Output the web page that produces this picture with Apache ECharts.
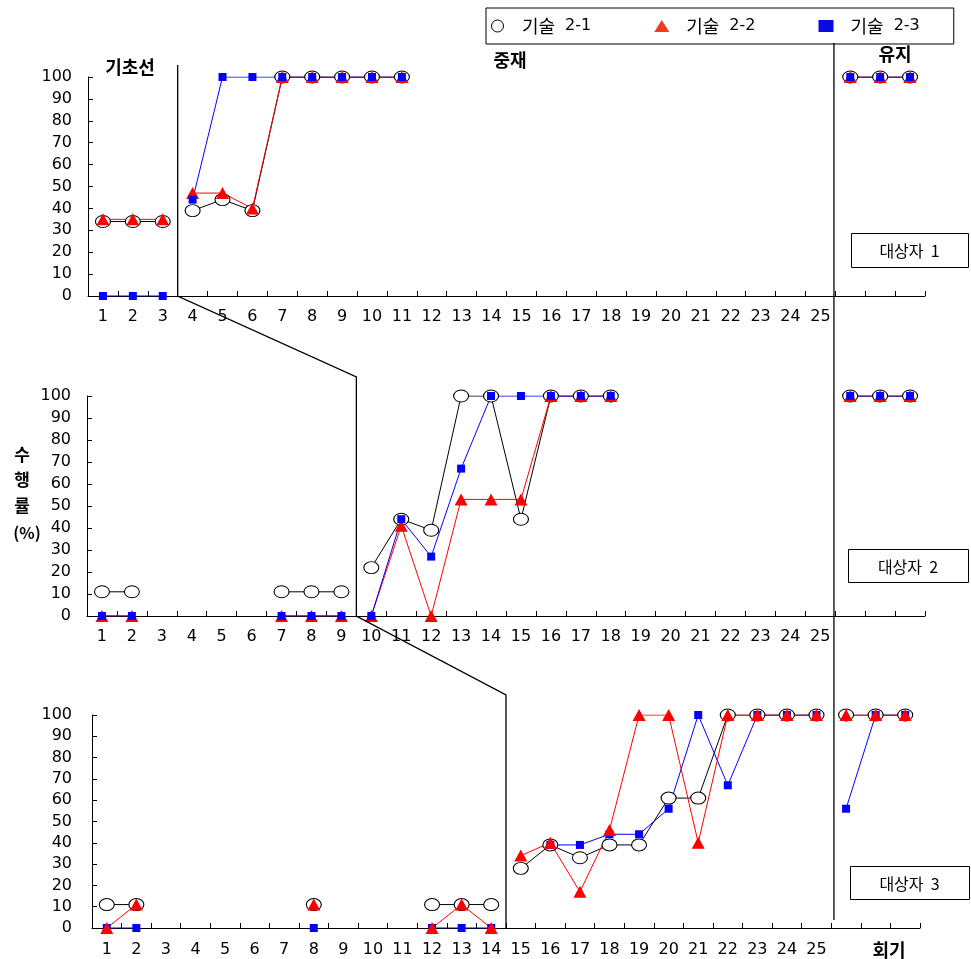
<!DOCTYPE html>
<html><head><meta charset="utf-8">
<script src="https://cdn.jsdelivr.net/npm/echarts@6/dist/echarts.min.js"></script>
<style>html,body{margin:0;padding:0;background:#fff}#c{width:971px;height:959px}</style>
</head><body><div id="c"></div>
<script>
// ---------- data ----------
const categories = ['1','2','3','4','5','6','7','8','9','10','11','12','13','14','15','16','17','18','19','20','21','22','23','24','25','','',''];
const skillNames = ['기술 2-1','기술 2-2','기술 2-3'];
const subjectLabels = ['대상자  1','대상자  2','대상자  3'];
const phaseLabels = ['기초선','중재','유지'];
const yAxisLabel = ['수','행','률','(%)'];
const xAxisTitle = '회기';
const interventionStart = [3, 9, 14];   // first intervention session index per subject
const maintenanceStart = 25;            // first maintenance slot index

// subject 1
const s1_skill1 = [34,34,34,39,44,39,100,100,100,100,100,null,null,null,null,null,null,null,null,null,null,null,null,null,null,100,100,100];
const s1_skill2 = [35,35,35,47,47,40,100,100,100,100,100,null,null,null,null,null,null,null,null,null,null,null,null,null,null,100,100,100];
const s1_skill3 = [0,0,0,44,100,100,100,100,100,100,100,null,null,null,null,null,null,null,null,null,null,null,null,null,null,100,100,100];
// subject 2
const s2_skill1 = [11,11,null,null,null,null,11,11,11,22,44,39,100,100,44,100,100,100,null,null,null,null,null,null,null,100,100,100];
const s2_skill2 = [0,0,null,null,null,null,0,0,0,0,41,0,53,53,53,100,100,100,null,null,null,null,null,null,null,100,100,100];
const s2_skill3 = [0,0,null,null,null,null,0,0,0,0,44,27,67,100,100,100,100,100,null,null,null,null,null,null,null,100,100,100];
// subject 3
const s3_skill1 = [11,11,null,null,null,null,null,11,null,null,null,11,11,11,28,39,33,39,39,61,61,100,100,100,100,100,100,100];
const s3_skill2 = [0,11,null,null,null,null,null,11,null,null,null,0,11,0,34,40,17,46,100,100,40,100,100,100,100,100,100,100];
const s3_skill3 = [0,0,null,null,null,null,null,0,null,null,null,0,0,0,null,39,39,44,44,56,100,67,100,100,100,56,100,100];

const subjects = [
  [s1_skill1, s1_skill2, s1_skill3],
  [s2_skill1, s2_skill2, s2_skill3],
  [s3_skill1, s3_skill2, s3_skill3]
];

// ---------- layout / style ----------
const grids = [
  {left:88, top:77, width:837, height:219},
  {left:87, top:396, width:838, height:220},
  {left:92, top:715, width:828, height:213}
];
const yLabelMargin = [16, 16, 20];
const drawOrder = [[0,1,2],[0,1,2],[0,2,1]];
const ellipse = 'path://M0,5A5,5,0,1,1,10,5A5,5,0,1,1,0,5Z';
const skillStyles = [
  {symbol: ellipse, symbolSize:[15,12], itemStyle:{color:'#fff', borderColor:'#000', borderWidth:1}, lineStyle:{color:'#000', width:1}},
  {symbol:'triangle', symbolSize:[13,12], itemStyle:{color:'#ff0000'}, lineStyle:{color:'#ff0000', width:1}},
  {symbol:'rect', symbolSize:8, itemStyle:{color:'#0000ff'}, lineStyle:{color:'#0000ff', width:1}}
];
const tickFont = 'DejaVu Sans';
const krFont = 'Noto Sans CJK KR';

function phaseData(arr, a, b){ return arr.map((v,i)=> (i>=a && i<b) ? v : null); }

const series = [];
subjects.forEach((skills, g) => {
  const bounds = [0, interventionStart[g], maintenanceStart, categories.length];
  drawOrder[g].forEach(k => {
    for (let p = 0; p < 3; p++) {
      const st = skillStyles[k];
      series.push({
        type:'line', name: skillNames[k], xAxisIndex:g, yAxisIndex:g,
        data: phaseData(skills[k], bounds[p], bounds[p+1]),
        symbol: st.symbol, symbolSize: st.symbolSize,
        itemStyle: st.itemStyle, lineStyle: st.lineStyle,
        showSymbol:true, showAllSymbol:true, connectNulls:false,
        emphasis:{disabled:true}, animation:false
      });
    }
  });
});

const option = {
  animation:false,
  backgroundColor:'#fff',
  grid: grids.map(g => Object.assign({containLabel:false}, g)),
  xAxis: grids.map((g,i) => ({
    type:'category', gridIndex:i, data:categories, boundaryGap:true,
    axisLine:{show:true, lineStyle:{color:'#000', width:1}},
    axisTick:{show:true, inside:true, length:5, interval:0, lineStyle:{color:'#000'}},
    axisLabel:{interval:0, color:'#000', fontFamily:tickFont, fontSize:16, margin: i===2 ? 14 : 13},
    splitLine:{show:false}
  })),
  yAxis: grids.map((g,i) => ({
    type:'value', gridIndex:i, min:0, max:100, interval:10,
    axisLine:{show:true, lineStyle:{color:'#000', width:1}},
    axisTick:{show:true, inside:true, length:5, lineStyle:{color:'#000'}},
    axisLabel:{color:'#000', fontFamily:tickFont, fontSize:16, margin:yLabelMargin[i]},
    splitLine:{show:false}
  })),
  legend: {
    left:486, top:8, orient:'horizontal',
    padding:[9,34,9,5], itemGap:63, itemWidth:15, itemHeight:12,
    borderColor:'#000', borderWidth:1, backgroundColor:'#fff',
    selectedMode:false,
    formatter: n => { const p = n.split(' '); return '{a|' + p[0] + '}{b|' + p[1] + '}'; },
    textStyle:{color:'#000', fontFamily:krFont, fontSize:18,
      rich:{a:{fontFamily:krFont, fontSize:18, color:'#000', padding:[0,0,0,12]},
            b:{fontFamily:tickFont, fontSize:16, color:'#000', padding:[0,0,0,10]}}},
    data:[
      {name:skillNames[0], icon:'circle', itemStyle:{color:'#fff', borderColor:'#000', borderWidth:1}},
      {name:skillNames[1], icon:'triangle', itemStyle:{color:'#f23a1d', borderWidth:0}},
      {name:skillNames[2], icon:'rect', itemStyle:{color:'#0a0ae6', borderWidth:0}}
    ]
  },
  series: series
};

const chart = echarts.init(document.getElementById('c'), null, {renderer:'canvas'});
chart.setOption(option);

// ---------- phase-change lines & annotations ----------
const px = (g, idx) => chart.convertToPixel({xAxisIndex:g}, idx);
const py = (g, v) => chart.convertToPixel({yAxisIndex:g}, v);
const bx = (g, k) => (px(g, k-1) + px(g, k)) / 2;

const xb = [0,1,2].map(g => bx(g, interventionStart[g]));
const y0 = [0,1,2].map(g => py(g, 0));
const y100 = [0,1,2].map(g => py(g, 100));
const xm = (bx(0, maintenanceStart) + bx(1, maintenanceStart) + bx(2, maintenanceStart)) / 3;

const lineStyle = {stroke:'#000', lineWidth:1.3, fill:null};
const txt = (text, x, y, font) => ({type:'text', x:x, y:y, z:100,
  style:{text:text, font:font, fill:'#000', align:'center', verticalAlign:'middle'}});
const boxes = [
  {x:851, y:233, w:117, h:34},
  {x:848, y:549, w:120, h:33},
  {x:850, y:866, w:119, h:33}
];

const graphic = [
  {type:'polyline', z:50, shape:{points:[
    [xb[0], y100[0]-12], [xb[0], y0[0]],
    [xb[1], y100[1]-19], [xb[1], y0[1]],
    [xb[2], y100[2]-20], [xb[2], y0[2]]
  ]}, style:lineStyle},
  {type:'line', z:50, shape:{x1:xm, y1:y100[0]-34, x2:xm, y2:y0[2]-8}, style:lineStyle},
  txt(phaseLabels[0], 130, 67, 'bold 18px "' + krFont + '"'),
  txt(phaseLabels[1], 510, 60, 'bold 18px "' + krFont + '"'),
  txt(phaseLabels[2], 895, 54, 'bold 18px "' + krFont + '"'),
  txt(yAxisLabel[0], 22, 455, 'bold 17px "' + krFont + '"'),
  txt(yAxisLabel[1], 22, 480, 'bold 17px "' + krFont + '"'),
  txt(yAxisLabel[2], 22, 506, 'bold 17px "' + krFont + '"'),
  txt(yAxisLabel[3], 27, 533, 'bold 16px "' + krFont + '"'),
  txt(xAxisTitle, 889, 950, 'bold 18px "' + krFont + '"')
];
boxes.forEach((b, i) => {
  graphic.push({type:'rect', z:60, shape:{x:b.x+0.5, y:b.y+0.5, width:b.w, height:b.h},
    style:{fill:'#fff', stroke:'#000', lineWidth:1}});
  graphic.push(txt(subjectLabels[i], b.x + b.w/2, b.y + b.h/2 + 1, '16px "' + krFont + '"'));
});
chart.setOption({graphic: graphic});
</script>
</body></html>
